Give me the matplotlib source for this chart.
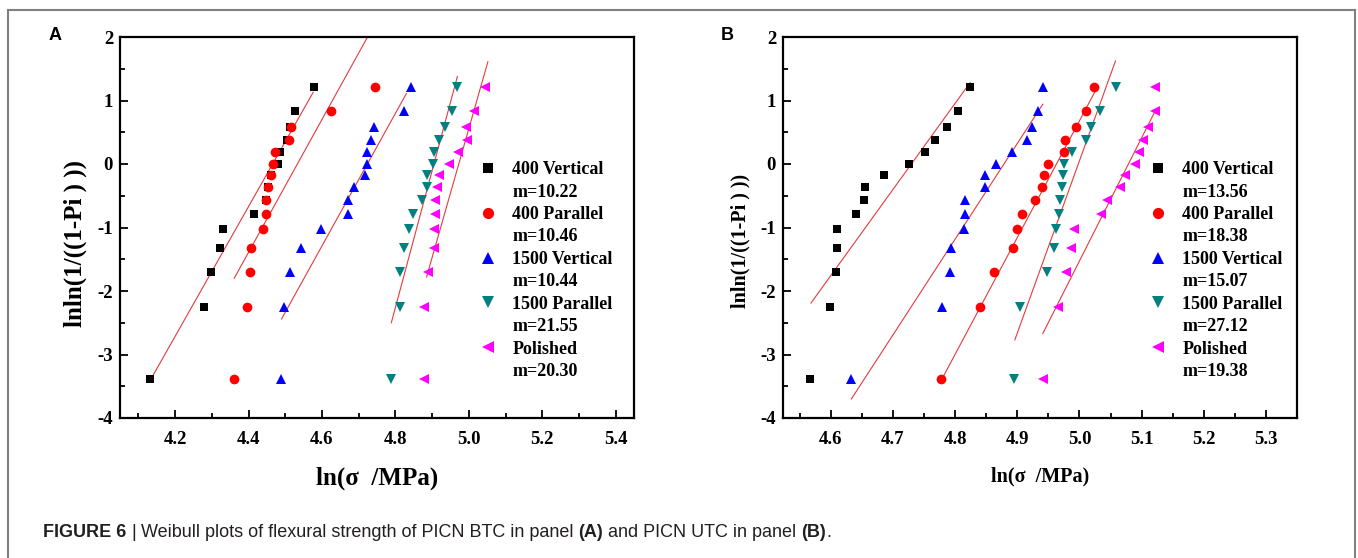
"""Weibull plots of flexural strength for PICN BTC (A) and PICN UTC (B)."""

from typing import List
import matplotlib.pyplot as plt
from matplotlib.lines import Line2D
from matplotlib.ticker import MultipleLocator


# Weibull rank ordinate, shared by every series (15 specimens each)
rank_y = [-3.38, -2.25, -1.70, -1.33, -1.03, -0.78, -0.57, -0.37,
          -0.18, 0.00, 0.19, 0.38, 0.59, 0.84, 1.22]

series_names = ["400 Vertical", "400 Parallel", "1500 Vertical",
                "1500 Parallel", "Polished"]

# Panel A: PICN BTC, ln(strength)
a_400_vertical = [4.133, 4.279, 4.299, 4.323, 4.331, 4.414, 4.449, 4.454,
                  4.461, 4.479, 4.485, 4.506, 4.514, 4.526, 4.579]
a_400_parallel = [4.360, 4.395, 4.404, 4.408, 4.439, 4.448, 4.448, 4.453,
                  4.461, 4.468, 4.472, 4.511, 4.517, 4.626, 4.744]
a_1500_vertical = [4.488, 4.497, 4.512, 4.543, 4.597, 4.670, 4.672, 4.686,
                   4.718, 4.722, 4.722, 4.735, 4.743, 4.824, 4.842]
a_1500_parallel = [4.789, 4.812, 4.813, 4.824, 4.838, 4.848, 4.873, 4.887,
                   4.887, 4.902, 4.905, 4.920, 4.935, 4.955, 4.968]
a_polished = [4.877, 4.877, 4.888, 4.906, 4.904, 4.908, 4.908, 4.913,
              4.918, 4.946, 4.971, 4.994, 4.993, 5.014, 5.044]
moduli_a = [10.22, 10.46, 10.44, 21.55, 20.30]
fit_x0_a = [4.133, 4.361, 4.490, 4.789, 4.885]
fit_y0_a = [-3.40, -1.80, -2.44, -2.50, -1.78]
fit_x1_a = [4.576, 4.730, 4.830, 4.969, 5.052]

# Panel B: PICN UTC, ln(strength)
b_400_vertical = [4.567, 4.599, 4.608, 4.610, 4.610, 4.640, 4.653, 4.655,
                  4.685, 4.726, 4.751, 4.767, 4.787, 4.804, 4.824]
b_400_parallel = [4.778, 4.840, 4.863, 4.893, 4.899, 4.908, 4.928, 4.940,
                  4.943, 4.950, 4.975, 4.977, 4.994, 5.010, 5.024]
b_1500_vertical = [4.633, 4.779, 4.791, 4.794, 4.815, 4.816, 4.816, 4.848,
                   4.848, 4.865, 4.891, 4.916, 4.923, 4.934, 4.942]
b_1500_parallel = [4.894, 4.904, 4.947, 4.959, 4.963, 4.967, 4.969, 4.972,
                   4.974, 4.975, 4.988, 5.011, 5.019, 5.033, 5.059]
b_polished = [4.941, 4.966, 4.978, 4.986, 4.992, 5.034, 5.045, 5.065,
              5.073, 5.090, 5.095, 5.103, 5.110, 5.121, 5.122]
moduli_b = [13.56, 18.38, 15.07, 27.12, 19.38]
fit_x0_b = [4.568, 4.778, 4.633, 4.896, 4.941]
fit_y0_b = [-2.19, -3.40, -3.70, -2.77, -2.67]
fit_x1_b = [4.824, 5.030, 4.941, 5.058, 5.122]

MARKERS = ["s", "o", "^", "v", "<"]
COLORS = ["black", "#ff0000", "#0000ff", "#008080", "#ff00ff"]
MARKER_SIZES = [6.0, 7.0, 7.0, 7.0, 7.0]
FIT_COLOR = "#e8393c"
SERIF = ["Liberation Serif", "DejaVu Serif"]
SANS = ["Liberation Sans", "DejaVu Sans"]

W, H = 1358, 558


def draw_panel(ax, xs: List[List[float]], moduli, x0s, y0s, x1s, xlim,
               major, minor, label_size, legend_x) -> None:
    """Scatter each series, its fitted line and a two-line legend."""
    handles, labels = [], []
    for i, x in enumerate(xs):
        ax.plot(x, rank_y, linestyle="none", marker=MARKERS[i],
                markersize=MARKER_SIZES[i], color=COLORS[i],
                markeredgewidth=0, zorder=3)
        m = moduli[i]
        fx = [x0s[i], x1s[i]]
        fy = [y0s[i], y0s[i] + m * (x1s[i] - x0s[i])]
        ax.plot(fx, fy, color=FIT_COLOR, linewidth=0.8, zorder=2)
        handles.append(Line2D([], [], linestyle="none", marker=MARKERS[i],
                              markersize=MARKER_SIZES[i] * 1.15,
                              color=COLORS[i], markeredgewidth=0))
        labels.append(series_names[i])
        handles.append(Line2D([], [], linestyle="none"))
        labels.append(f"m={m:.2f}")

    ax.set_xlim(*xlim)
    ax.set_ylim(-4, 2)
    ax.xaxis.set_major_locator(MultipleLocator(major))
    ax.xaxis.set_minor_locator(MultipleLocator(minor))
    ax.yaxis.set_major_locator(MultipleLocator(1))
    ax.yaxis.set_minor_locator(MultipleLocator(0.5))
    ax.xaxis.set_major_formatter(plt.FormatStrFormatter("%.1f"))
    ax.tick_params(which="both", direction="in", top=False, right=False,
                   width=1.3, labelsize=13.5)
    ax.tick_params(which="major", length=6)
    ax.tick_params(which="minor", length=3.5)
    ax.tick_params(axis="x", pad=9)
    ax.tick_params(axis="y", pad=5)
    for lab in ax.get_xticklabels() + ax.get_yticklabels():
        lab.set_fontweight("bold")
    for sp in ax.spines.values():
        sp.set_linewidth(1.6)

    ax.set_xlabel("ln(σ  /MPa)", fontsize=label_size, fontweight="bold")
    ax.set_ylabel("lnln(1/((1-Pi ) ))", fontsize=label_size,
                  fontweight="bold")

    ax.legend(handles, labels, loc="upper left",
              bbox_to_anchor=(legend_x, 0.674), frameon=False,
              borderpad=0, borderaxespad=0, handlelength=1.0,
              handletextpad=0.85, labelspacing=0.3,
              prop={"family": SERIF, "weight": "bold", "size": 13})


def draw_caption(fig, pieces, x_px: float, y_px: float, size: float) -> None:
    """Write a caption made of normal and bold runs on one line."""
    renderer = fig.canvas.get_renderer()
    probe_a = fig.text(0, 0, "x x", fontsize=size, family=SANS)
    probe_b = fig.text(0, 0, "xx", fontsize=size, family=SANS)
    space = (probe_a.get_window_extent(renderer).width
             - probe_b.get_window_extent(renderer).width)
    probe_a.remove()
    probe_b.remove()
    x = x_px
    for text, weight, gap in pieces:
        if gap:
            x += space
        t = fig.text(x / W, 1 - y_px / H, text, fontsize=size,
                     fontweight=weight, family=SANS, va="baseline",
                     color="#231f20")
        x += t.get_window_extent(renderer).width


def main() -> None:
    """Build both Weibull panels and save the figure."""
    plt.rcParams["font.family"] = SERIF
    plt.rcParams["axes.unicode_minus"] = False

    fig = plt.figure(figsize=(W / 100, H / 100), dpi=100)

    ax_a = fig.add_axes([120 / W, 1 - 418 / H, 514 / W, 381 / H])
    ax_b = fig.add_axes([783 / W, 1 - 418 / H, 514 / W, 381 / H])

    draw_panel(ax_a, [a_400_vertical, a_400_parallel, a_1500_vertical,
                      a_1500_parallel, a_polished],
               moduli_a, fit_x0_a, fit_y0_a, fit_x1_a, (4.05, 5.45),
               0.2, 0.1, 18, 0.698)
    ax_a.xaxis.labelpad = 14
    ax_a.yaxis.set_label_coords(-0.064, 0.457)

    draw_panel(ax_b, [b_400_vertical, b_400_parallel, b_1500_vertical,
                      b_1500_parallel, b_polished],
               moduli_b, fit_x0_b, fit_y0_b, fit_x1_b, (4.523, 5.35),
               0.1, 0.05, 14.5, 0.712)
    ax_b.xaxis.labelpad = 14
    ax_b.yaxis.set_label_coords(-0.064, 0.465)

    fig.text(55 / W, 1 - 36 / H, "A", fontsize=13, fontweight="bold",
             family=SANS, ha="center", va="center")
    fig.text(727 / W, 1 - 36 / H, "B", fontsize=13, fontweight="bold",
             family=SANS, ha="center", va="center")

    # page frame, open at the bottom
    frame = dict(color="#808080", linewidth=1.5, transform=None)
    fig.add_artist(Line2D([8, 1355], [H - 10, H - 10], **frame))
    fig.add_artist(Line2D([8, 8], [0, H - 10], **frame))
    fig.add_artist(Line2D([1355, 1355], [0, H - 10], **frame))

    draw_caption(fig, [
        ("FIGURE 6", "bold", False),
        ("|", "normal", True),
        ("Weibull plots of flexural strength of PICN BTC in panel",
         "normal", True),
        ("(A)", "bold", True),
        ("and PICN UTC in panel", "normal", True),
        ("(B)", "bold", True),
        (".", "normal", False),
    ], 43, 537, 13)

    fig.savefig("out.png", dpi=100)


if __name__ == "__main__":
    main()
